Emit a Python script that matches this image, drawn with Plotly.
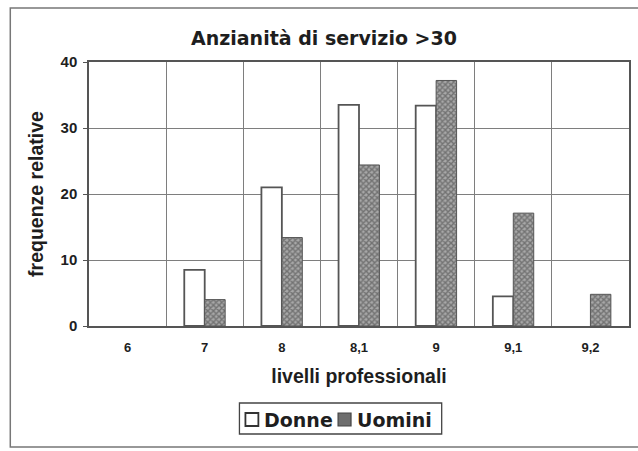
import plotly.graph_objects as go

# Data: relative frequencies by professional level (seniority > 30 years)
livelli = ["6", "7", "8", "8,1", "9", "9,1", "9,2"]
donne = [0, 8.5, 21.0, 33.5, 33.4, 4.5, 0]
uomini = [0, 4.0, 13.4, 24.4, 37.2, 17.1, 4.8]
y_ticks = [0, 10, 20, 30, 40]
serie = ["Donne", "Uomini"]

W, H = 638, 451
L, R, T, B = 89, 7, 62, 125
pw = W - L - R
ph = H - T - B

FONT = "Liberation Sans, Arial, sans-serif"
WIDE = "DejaVu Sans, sans-serif"
EDGE = "#555555"
TXT = "#1e1e1e"
HATCH_FG, HATCH_BG = "#3c3c3c", "#a8a8a8"


def px(x):
    """Pixel column -> paper x."""
    return (x - L) / pw


def py(y):
    """Pixel row -> paper y."""
    return (H - B - y) / ph


def edge_widths(values, w):
    # empty categories get no outline
    return [0 if v == 0 else w for v in values]


fig = go.Figure()
fig.add_trace(go.Bar(
    x=livelli, y=donne, name=serie[0], showlegend=False,
    marker=dict(color="white", line=dict(color=EDGE, width=edge_widths(donne, 1.8))),
))
fig.add_trace(go.Bar(
    x=livelli, y=uomini, name=serie[1], showlegend=False,
    marker=dict(
        color="#707070",
        line=dict(color="#555555", width=edge_widths(uomini, 1)),
        pattern=dict(shape="x", size=4, solidity=0.6,
                     fgcolor=HATCH_FG, bgcolor=HATCH_BG),
    ),
))

bold = dict(color=TXT, weight="bold")

# legend box drawn by hand for a compact Excel-like key
shapes = [
    # outer chart frame
    dict(type="rect", xref="paper", yref="paper",
         x0=px(10), x1=px(660), y0=py(447), y1=py(8),
         line=dict(color="#777777", width=1.5), layer="below"),
    # legend frame
    dict(type="rect", xref="paper", yref="paper",
         x0=px(240), x1=px(443), y0=py(434), y1=py(403),
         line=dict(color="#444444", width=1.3), fillcolor="white"),
    # legend keys
    dict(type="rect", xref="paper", yref="paper",
         x0=px(246), x1=px(259), y0=py(426), y1=py(413),
         line=dict(color="#333333", width=1.8), fillcolor="white"),
    dict(type="rect", xref="paper", yref="paper",
         x0=px(339), x1=px(352), y0=py(426), y1=py(413),
         line=dict(color="#444444", width=1.2), fillcolor="#6e6e6e"),
]
annotations = [
    dict(text=serie[0], xref="paper", yref="paper", x=px(263), y=py(419.5),
         xanchor="left", yanchor="middle", showarrow=False,
         font=dict(size=19, family=WIDE, **bold)),
    dict(text=serie[1], xref="paper", yref="paper", x=px(356), y=py(419.5),
         xanchor="left", yanchor="middle", showarrow=False,
         font=dict(size=19, family=WIDE, **bold)),
]

fig.update_layout(
    width=W, height=H,
    margin=dict(l=L, r=R, t=T, b=B),
    paper_bgcolor="white", plot_bgcolor="white",
    barmode="group", bargap=0.47, bargroupgap=0,
    font=dict(family=FONT, color=TXT),
    showlegend=False,
    title=dict(text="Anzianità di servizio >30",
               x=324 / W, xanchor="center",
               y=1 - 38 / H, yanchor="middle",
               font=dict(size=19, family=WIDE, **bold)),
    xaxis=dict(
        type="category", tickson="boundaries",
        showgrid=True, gridcolor="#7e7e7e", gridwidth=1,
        showline=True, linecolor="#555555", linewidth=1.5, mirror=True,
        ticks="", tickfont=dict(size=13, family=FONT, **bold),
        title=dict(text="livelli professionali", standoff=15,
                   font=dict(size=19.5, family=FONT, **bold)),
        ticklabelstandoff=9,
    ),
    yaxis=dict(
        range=[0, 40], tickvals=y_ticks,
        showgrid=True, gridcolor="#7e7e7e", gridwidth=1,
        showline=True, linecolor="#555555", linewidth=1.5, mirror=True,
        ticks="outside", ticklen=4, tickcolor="#555555",
        tickfont=dict(size=15, family=FONT, **bold),
        ticklabelstandoff=3,
        tickformat="d",
        zeroline=False,
        title=dict(text="frequenze relative", standoff=12,
                   font=dict(size=19.5, family=FONT, **bold)),
    ),
    shapes=shapes,
    annotations=annotations,
)

fig.write_html("out.html")
